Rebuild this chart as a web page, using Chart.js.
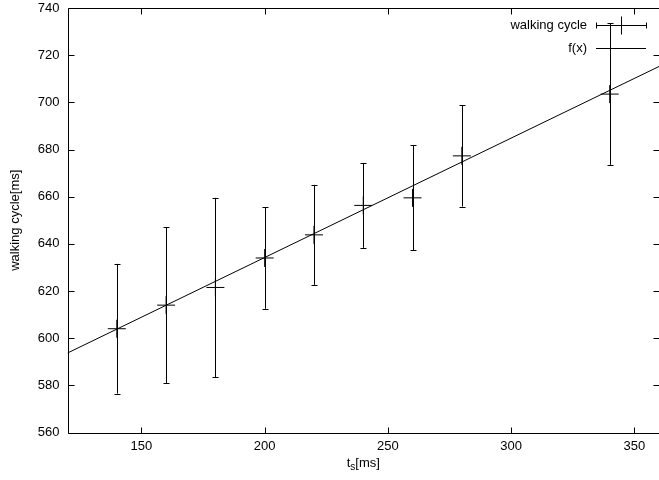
<!DOCTYPE html>
<html>
<head>
<meta charset="utf-8">
<script src="https://cdn.jsdelivr.net/npm/chart.js@4"></script>
<style>
  html, body { margin: 0; padding: 0; overflow: hidden; background: #fff; }
  #wrap { width: 659px; height: 480px; }
</style>
</head>
<body>
<div id="wrap"><canvas id="chart-walking-cycle" width="659" height="480"></canvas></div>
<script>
// measured walking cycle per step time
const stepTimes = [140, 160, 180, 200, 220, 240, 260, 280, 340];
const cycleMeans = [604, 614, 621.5, 634, 643.8, 656.3, 659.5, 677.3, 703.5];
const cycleErrors = [27.5, 33, 38, 21.5, 21.2, 18, 22.2, 21.5, 30];

// fitted line f(x), read at the ends of the x range
const fitX = [120, 360];
const fitY = [593.7, 715.2];

const xTicks = [150, 200, 250, 300, 350];
const yTicks = [560, 580, 600, 620, 640, 660, 680, 700, 720, 740];

const legendLabels = ['walking cycle', 'f(x)'];

const fontFamily = '"Liberation Sans", Arial, sans-serif';
Chart.defaults.font.family = fontFamily;
Chart.defaults.font.size = 13;
Chart.defaults.color = '#000';

// gnuplot style frame with inward ticks, error bars, legend and axis titles
const gnuplotLook = {
  id: 'gnuplotLook',
  afterDatasetsDraw(chart) {
    const ctx = chart.ctx;
    const xs = chart.scales.x;
    const ys = chart.scales.y;
    const a = chart.chartArea;
    const L = Math.round(a.left) + 0.5, R = Math.round(a.right) + 0.5;
    const T = Math.round(a.top) + 0.5, B = Math.round(a.bottom) + 0.5;
    const tick = 6;

    ctx.save();
    ctx.strokeStyle = '#000';
    ctx.lineWidth = 1;

    // error bars
    ctx.beginPath();
    stepTimes.forEach((t, i) => {
      const px = Math.round(xs.getPixelForValue(t)) + 0.5;
      const top = ys.getPixelForValue(cycleMeans[i] + cycleErrors[i]);
      const bot = ys.getPixelForValue(cycleMeans[i] - cycleErrors[i]);
      ctx.moveTo(px, top); ctx.lineTo(px, bot);
      ctx.moveTo(px - 3, Math.round(top) + 0.5); ctx.lineTo(px + 3, Math.round(top) + 0.5);
      ctx.moveTo(px - 3, Math.round(bot) + 0.5); ctx.lineTo(px + 3, Math.round(bot) + 0.5);
    });
    ctx.stroke();

    // frame
    ctx.beginPath();
    ctx.rect(L, T, R - L, B - T);
    // inward ticks, mirrored
    xTicks.forEach(v => {
      const px = Math.round(xs.getPixelForValue(v)) + 0.5;
      ctx.moveTo(px, B); ctx.lineTo(px, B - tick);
      ctx.moveTo(px, T); ctx.lineTo(px, T + tick);
    });
    yTicks.forEach(v => {
      const py = Math.round(ys.getPixelForValue(v)) + 0.5;
      ctx.moveTo(L, py); ctx.lineTo(L + tick, py);
      ctx.moveTo(R, py); ctx.lineTo(R - tick, py);
    });
    ctx.stroke();

    // legend
    const textRight = 587;
    const sx1 = 596, sx2 = 646;
    const rows = [25.5, 48.5];
    ctx.fillStyle = '#000';
    ctx.font = '13px ' + fontFamily;
    ctx.textAlign = 'right';
    ctx.textBaseline = 'middle';
    legendLabels.forEach((lbl, i) => ctx.fillText(lbl, textRight, rows[i]));
    ctx.beginPath();
    ctx.moveTo(sx1, rows[0]); ctx.lineTo(sx2, rows[0]);
    ctx.moveTo(sx1 + 0.5, rows[0] - 3); ctx.lineTo(sx1 + 0.5, rows[0] + 3);
    ctx.moveTo(sx2 + 0.5, rows[0] - 3); ctx.lineTo(sx2 + 0.5, rows[0] + 3);
    ctx.moveTo(621.5, rows[0] - 9); ctx.lineTo(621.5, rows[0] + 9);
    ctx.moveTo(612, rows[0]); ctx.lineTo(630, rows[0]);
    ctx.moveTo(sx1, rows[1]); ctx.lineTo(sx2, rows[1]);
    ctx.stroke();

    // y title
    ctx.save();
    ctx.translate(15, (a.top + a.bottom) / 2);
    ctx.rotate(-Math.PI / 2);
    ctx.textAlign = 'center';
    ctx.textBaseline = 'middle';
    ctx.fillText('walking cycle[ms]', 0, 0);
    ctx.restore();

    // x title with subscript
    const base = 467;
    ctx.textAlign = 'left';
    ctx.textBaseline = 'alphabetic';
    ctx.font = '13px ' + fontFamily;
    const wT = ctx.measureText('t').width;
    const wRest = ctx.measureText('[ms]').width;
    ctx.font = '10px ' + fontFamily;
    const wS = ctx.measureText('s').width;
    const x0 = (a.left + a.right) / 2 - (wT + wS + wRest) / 2;
    ctx.font = '13px ' + fontFamily;
    ctx.fillText('t', x0, base);
    ctx.font = '10px ' + fontFamily;
    ctx.fillText('s', x0 + wT, base + 3);
    ctx.font = '13px ' + fontFamily;
    ctx.fillText('[ms]', x0 + wT + wS, base);

    ctx.restore();
  }
};

const ctx = document.getElementById('chart-walking-cycle').getContext('2d');
const chartWalkingCycle = new Chart(ctx, {
  type: 'scatter',
  data: {
    datasets: [
      {
        label: 'walking cycle',
        data: stepTimes.map((t, i) => ({ x: t, y: cycleMeans[i] })),
        pointStyle: 'cross',
        pointRadius: 9,
        pointBorderWidth: 1,
        borderColor: '#000',
        backgroundColor: '#000'
      },
      {
        type: 'line',
        label: 'f(x)',
        data: fitX.map((x, i) => ({ x: x, y: fitY[i] })),
        borderColor: '#000',
        borderWidth: 1,
        pointRadius: 0,
        fill: false
      }
    ]
  },
  options: {
    responsive: false,
    animation: false,
    layout: { autoPadding: false, padding: { top: 8, right: -3, left: 0, bottom: 0 } },
    plugins: {
      legend: { display: false },
      tooltip: { enabled: false }
    },
    scales: {
      x: {
        type: 'linear',
        min: 120,
        max: 360,
        grid: { display: false, drawTicks: false },
        border: { display: false },
        ticks: { stepSize: 50, includeBounds: false, padding: 6, maxRotation: 0 },
        afterFit: s => {
          s.height = 47.5;
          s.paddingLeft = 0; s.paddingRight = 0;
        }
      },
      y: {
        type: 'linear',
        min: 560,
        max: 740,
        grid: { display: false, drawTicks: false },
        border: { display: false },
        ticks: { stepSize: 20, padding: 8 },
        afterFit: s => {
          s.width = 67.5;
          s.paddingTop = 0; s.paddingBottom = 0;
        }
      }
    }
  },
  plugins: [gnuplotLook]
});
</script>
</body>
</html>
